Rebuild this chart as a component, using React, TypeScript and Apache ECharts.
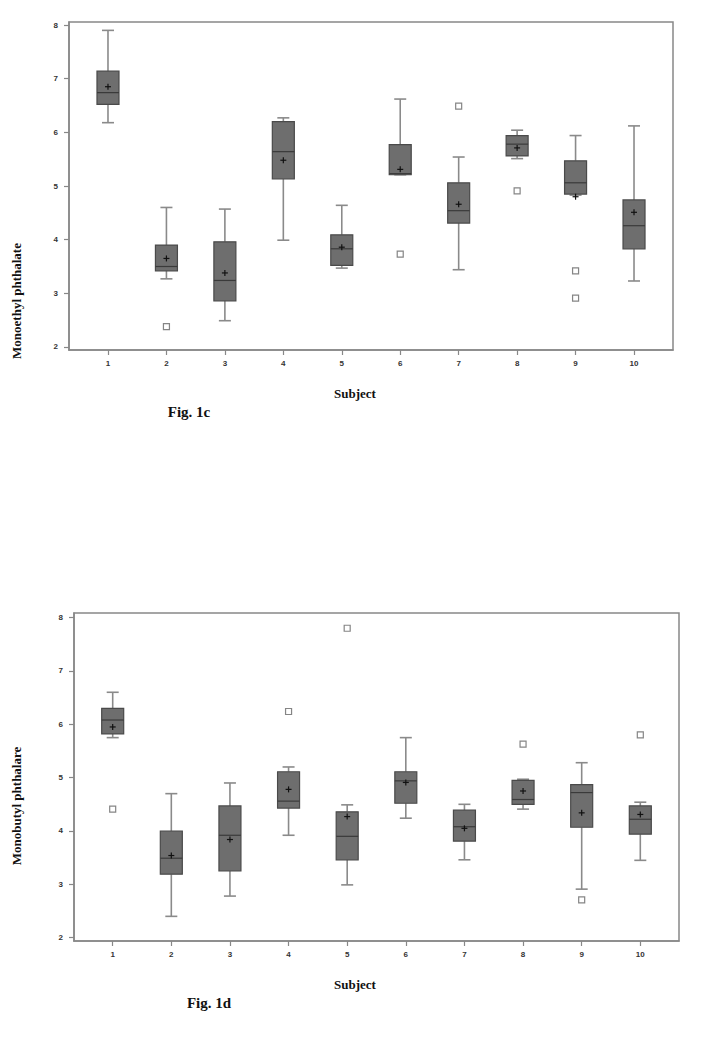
import React, { useEffect, useRef } from "react";
import * as echarts from "echarts";

// ---- Data ----
const subjects = [1, 2, 3, 4, 5, 6, 7, 8, 9, 10];
const yTicks = [2, 3, 4, 5, 6, 7, 8];

// Fig. 1c  Monoethyl phthalate
const cLow = [6.18, 3.27, 2.49, 3.99, 3.47, 5.21, 3.44, 5.51, 4.83, 3.23];
const cQ1 = [6.52, 3.42, 2.86, 5.13, 3.52, 5.21, 4.31, 5.56, 4.85, 3.83];
const cMedian = [6.74, 3.5, 3.24, 5.64, 3.83, 5.23, 4.54, 5.78, 5.06, 4.26];
const cQ3 = [7.14, 3.9, 3.96, 6.2, 4.09, 5.77, 5.06, 5.94, 5.47, 4.74];
const cHigh = [7.9, 4.6, 4.57, 6.27, 4.64, 6.62, 5.54, 6.04, 5.94, 6.12];
const cMean = [6.85, 3.65, 3.38, 5.48, 3.86, 5.31, 4.66, 5.71, 4.8, 4.51];
const cOutliers = [
  [2, 2.38],
  [6, 3.73],
  [7, 6.49],
  [8, 4.91],
  [9, 3.42],
  [9, 2.91],
];

// Fig. 1d  Monobutyl phthalare
const dLow = [5.75, 2.4, 2.78, 3.92, 2.99, 4.24, 3.46, 4.41, 2.91, 3.45];
const dQ1 = [5.82, 3.19, 3.25, 4.43, 3.46, 4.52, 3.81, 4.5, 4.07, 3.94];
const dMedian = [6.08, 3.49, 3.92, 4.56, 3.9, 4.94, 4.08, 4.59, 4.72, 4.22];
const dQ3 = [6.3, 4.0, 4.47, 5.11, 4.36, 5.11, 4.39, 4.95, 4.87, 4.47];
const dHigh = [6.6, 4.7, 4.9, 5.2, 4.49, 5.75, 4.5, 4.97, 5.28, 4.54];
const dMean = [5.95, 3.54, 3.84, 4.78, 4.27, 4.91, 4.05, 4.75, 4.34, 4.31];
const dOutliers = [
  [1, 4.41],
  [4, 6.24],
  [5, 7.8],
  [8, 5.63],
  [9, 2.71],
  [10, 5.8],
];

const buildBoxData = (
  low: number[],
  q1: number[],
  med: number[],
  q3: number[],
  high: number[],
  mean: number[]
) => subjects.map((s, i) => [s, low[i], q1[i], med[i], q3[i], high[i], mean[i]]);

const BOX_W = 22;
const CAP_W = 12;
const WHISKER = "#8a8a8a";
const BOX_FILL = "#6e6e6e";
const BOX_STROKE = "#4a4a4a";

const renderBox = (params: any, api: any) => {
  const x = api.value(0);
  const pLo = api.coord([x, api.value(1)]);
  const pQ1 = api.coord([x, api.value(2)]);
  const pMed = api.coord([x, api.value(3)]);
  const pQ3 = api.coord([x, api.value(4)]);
  const pHi = api.coord([x, api.value(5)]);
  const pMean = api.coord([x, api.value(6)]);
  const cx = pLo[0];
  const ws = { stroke: WHISKER, lineWidth: 1.6 };
  return {
    type: "group",
    children: [
      { type: "line", shape: { x1: cx, y1: pHi[1], x2: cx, y2: pQ3[1] }, style: ws },
      { type: "line", shape: { x1: cx, y1: pQ1[1], x2: cx, y2: pLo[1] }, style: ws },
      { type: "line", shape: { x1: cx - CAP_W / 2, y1: pHi[1], x2: cx + CAP_W / 2, y2: pHi[1] }, style: ws },
      { type: "line", shape: { x1: cx - CAP_W / 2, y1: pLo[1], x2: cx + CAP_W / 2, y2: pLo[1] }, style: ws },
      {
        type: "rect",
        shape: { x: cx - BOX_W / 2, y: pQ3[1], width: BOX_W, height: pQ1[1] - pQ3[1] },
        style: { fill: BOX_FILL, stroke: BOX_STROKE, lineWidth: 1.2 },
      },
      {
        type: "line",
        shape: { x1: cx - BOX_W / 2, y1: pMed[1], x2: cx + BOX_W / 2, y2: pMed[1] },
        style: { stroke: "#3a3a3a", lineWidth: 1.2 },
      },
      {
        type: "line",
        shape: { x1: cx - 3, y1: pMean[1], x2: cx + 3, y2: pMean[1] },
        style: { stroke: "#111", lineWidth: 1.2 },
      },
      {
        type: "line",
        shape: { x1: cx, y1: pMean[1] - 3, x2: cx, y2: pMean[1] + 3 },
        style: { stroke: "#111", lineWidth: 1.2 },
      },
    ],
  };
};

const axisLabelStyle = {
  fontSize: 8,
  fontWeight: "bold" as const,
  color: "#333",
  fontFamily: "Liberation Sans, Arial, sans-serif",
};

const makeXAxis = (gridIndex: number, min: number, max: number) => ({
  type: "value",
  gridIndex,
  min,
  max,
  splitLine: { show: false },
  axisLine: { show: true, lineStyle: { color: "#888", width: 1.5 } },
  axisTick: { show: true, length: 5, lineStyle: { color: "#888", width: 1.2 }, customValues: subjects },
  axisLabel: { ...axisLabelStyle, margin: 9, customValues: subjects },
});

const makeYAxis = (gridIndex: number, min: number, max: number) => ({
  type: "value",
  gridIndex,
  min,
  max,
  splitLine: { show: false },
  axisLine: { show: true, lineStyle: { color: "#888", width: 1.5 } },
  axisTick: { show: true, length: 5, lineStyle: { color: "#888", width: 1.2 }, customValues: yTicks },
  axisLabel: { ...axisLabelStyle, margin: 11, customValues: yTicks },
});

const serifBold = {
  fontFamily: "Liberation Serif, Times New Roman, serif",
  fontWeight: "bold" as const,
  fill: "#111",
};

export default function App() {
  const ref = useRef<HTMLDivElement>(null);
  useEffect(() => {
    if (!ref.current) return;
    const chart = echarts.init(ref.current, undefined, { renderer: "svg" });
    chart.setOption({
      animation: false,
      backgroundColor: "#fff",
      grid: [
        { left: 69, top: 22, width: 604, height: 328, show: true, borderColor: "#888", borderWidth: 1.5 },
        { left: 74, top: 613, width: 605, height: 328, show: true, borderColor: "#888", borderWidth: 1.5 },
      ],
      xAxis: [makeXAxis(0, 0.333, 10.667), makeXAxis(1, 0.34, 10.66)],
      yAxis: [makeYAxis(0, 1.944, 8.056), makeYAxis(1, 1.938, 8.086)],
      series: [
        {
          type: "custom",
          xAxisIndex: 0,
          yAxisIndex: 0,
          renderItem: renderBox,
          encode: { x: 0, y: [1, 2, 3, 4, 5, 6] },
          data: buildBoxData(cLow, cQ1, cMedian, cQ3, cHigh, cMean),
        },
        {
          type: "scatter",
          xAxisIndex: 0,
          yAxisIndex: 0,
          symbol: "rect",
          symbolSize: 6,
          itemStyle: { color: "#fff", borderColor: "#666", borderWidth: 1.2 },
          data: cOutliers,
        },
        {
          type: "custom",
          xAxisIndex: 1,
          yAxisIndex: 1,
          renderItem: renderBox,
          encode: { x: 0, y: [1, 2, 3, 4, 5, 6] },
          data: buildBoxData(dLow, dQ1, dMedian, dQ3, dHigh, dMean),
        },
        {
          type: "scatter",
          xAxisIndex: 1,
          yAxisIndex: 1,
          symbol: "rect",
          symbolSize: 6,
          itemStyle: { color: "#fff", borderColor: "#666", borderWidth: 1.2 },
          data: dOutliers,
        },
      ],
      graphic: [
        {
          type: "text",
          x: 16,
          y: 301,
          rotation: Math.PI / 2,
          style: { ...serifBold, text: "Monoethyl phthalate", fontSize: 13, align: "center", verticalAlign: "middle" },
        },
        {
          type: "text",
          x: 355,
          y: 393,
          style: { ...serifBold, text: "Subject", fontSize: 13, align: "center", verticalAlign: "middle" },
        },
        {
          type: "text",
          x: 189,
          y: 412,
          style: { ...serifBold, text: "Fig. 1c", fontSize: 15, align: "center", verticalAlign: "middle" },
        },
        {
          type: "text",
          x: 16,
          y: 806,
          rotation: Math.PI / 2,
          style: { ...serifBold, text: "Monobutyl phthalare", fontSize: 13, align: "center", verticalAlign: "middle" },
        },
        {
          type: "text",
          x: 355,
          y: 984,
          style: { ...serifBold, text: "Subject", fontSize: 13, align: "center", verticalAlign: "middle" },
        },
        {
          type: "text",
          x: 209,
          y: 1003,
          style: { ...serifBold, text: "Fig. 1d", fontSize: 15, align: "center", verticalAlign: "middle" },
        },
      ],
    });
    return () => chart.dispose();
  }, []);
  return (
    <div
      ref={ref}
      style={{ position: "absolute", left: 0, top: 0, width: 704, height: 1041 }}
    />
  );
}
